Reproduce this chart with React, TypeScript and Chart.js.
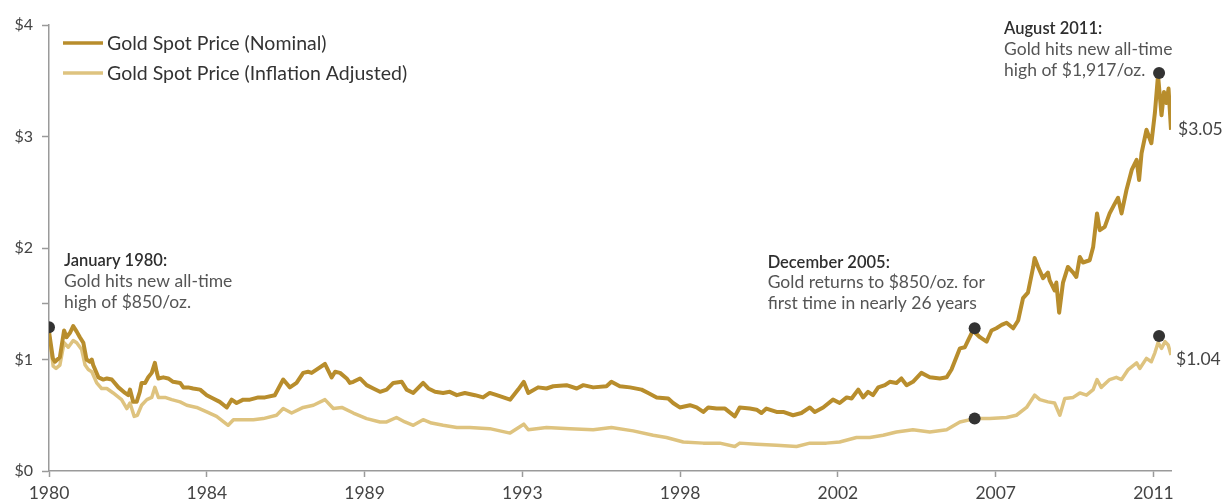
import React, { useEffect, useRef } from "react";
import { Chart, registerables } from "chart.js";

Chart.register(...registerables);

// ---- Data ----
const nominalYears = [
  1980.0, 1980.11, 1980.17, 1980.31, 1980.43, 1980.5, 1980.6, 1980.69, 1980.79, 1980.88,
  1980.98, 1981.07, 1981.17, 1981.22, 1981.26, 1981.41, 1981.55, 1981.65, 1981.79, 1981.98,
  1982.17, 1982.26, 1982.31, 1982.4, 1982.5, 1982.59, 1982.64, 1982.74, 1982.83, 1982.93,
  1983.02, 1983.07, 1983.12, 1983.26, 1983.4, 1983.54, 1983.74, 1983.83, 1983.97, 1984.11,
  1984.31, 1984.5, 1984.68, 1984.87, 1985.07, 1985.21, 1985.35, 1985.54, 1985.73, 1985.97,
  1986.16, 1986.44, 1986.68, 1986.87, 1987.06, 1987.25, 1987.39, 1987.49, 1987.63, 1987.87,
  1988.06, 1988.16, 1988.3, 1988.49, 1988.58, 1988.68, 1988.87, 1989.06, 1989.25, 1989.44,
  1989.63, 1989.82, 1990.06, 1990.2, 1990.39, 1990.67, 1990.82, 1991.01, 1991.24, 1991.43,
  1991.63, 1991.86, 1992.15, 1992.38, 1992.57, 1992.77, 1993.15, 1993.38, 1993.54, 1993.67,
  1993.95, 1994.19, 1994.38, 1994.76, 1995.05, 1995.24, 1995.52, 1995.9, 1996.04, 1996.28,
  1996.57, 1996.9, 1997.09, 1997.33, 1997.66, 1997.8, 1997.99, 1998.28, 1998.47, 1998.66,
  1998.8, 1999.04, 1999.28, 1999.56, 1999.7, 1999.99, 2000.18, 2000.32, 2000.46, 2000.75,
  2000.94, 2001.22, 2001.46, 2001.7, 2001.84, 2002.08, 2002.36, 2002.55, 2002.75, 2002.89,
  2003.08, 2003.22, 2003.36, 2003.5, 2003.65, 2003.84, 2003.98, 2004.17, 2004.31, 2004.46,
  2004.64, 2004.88, 2005.12, 2005.41, 2005.6, 2005.74, 2005.98, 2006.12, 2006.21, 2006.35,
  2006.55, 2006.74, 2006.88, 2007.02, 2007.17, 2007.31, 2007.5, 2007.64, 2007.78, 2007.92,
  2008.07, 2008.11, 2008.21, 2008.35, 2008.49, 2008.54, 2008.68, 2008.73, 2008.81, 2008.92,
  2009.06, 2009.21, 2009.3, 2009.4, 2009.49, 2009.68, 2009.78, 2009.89, 2009.97, 2010.11,
  2010.25, 2010.4, 2010.49, 2010.59, 2010.73, 2010.88, 2011.02, 2011.09, 2011.16, 2011.3,
  2011.44, 2011.54, 2011.63, 2011.73, 2011.8, 2011.87, 2011.93, 2012.0,
];
const nominalValues = [
  1.25, 1.01, 0.98, 1.02, 1.26, 1.2, 1.24, 1.3, 1.25, 1.2,
  1.15, 1.0, 0.98, 1.0, 0.95, 0.84, 0.82, 0.83, 0.82, 0.75,
  0.7, 0.68, 0.73, 0.62, 0.62, 0.71, 0.79, 0.79, 0.84, 0.88,
  0.97, 0.89, 0.83, 0.84, 0.83, 0.8, 0.79, 0.75, 0.75, 0.74,
  0.73, 0.68, 0.65, 0.62, 0.57, 0.64, 0.61, 0.64, 0.64, 0.66,
  0.66, 0.68, 0.82, 0.75, 0.79, 0.88, 0.89, 0.88, 0.91, 0.96,
  0.84, 0.89, 0.88, 0.83, 0.79, 0.8, 0.83, 0.77, 0.74, 0.71,
  0.73, 0.79, 0.8, 0.73, 0.7, 0.79, 0.74, 0.71, 0.7, 0.71,
  0.68, 0.7, 0.68, 0.66, 0.7, 0.68, 0.64, 0.73, 0.8, 0.7,
  0.75, 0.74, 0.76, 0.77, 0.74, 0.77, 0.75, 0.76, 0.8, 0.76,
  0.75, 0.73, 0.7, 0.66, 0.65, 0.61, 0.57, 0.59, 0.57, 0.53,
  0.57, 0.56, 0.56, 0.49, 0.57, 0.56, 0.55, 0.52, 0.56, 0.53,
  0.53, 0.5, 0.52, 0.57, 0.53, 0.57, 0.64, 0.61, 0.66, 0.65,
  0.73, 0.66, 0.71, 0.68, 0.75, 0.77, 0.8, 0.79, 0.83, 0.77,
  0.8, 0.88, 0.84, 0.83, 0.84, 0.91, 1.1, 1.11, 1.17, 1.26,
  1.2, 1.16, 1.26, 1.28, 1.31, 1.33, 1.28, 1.35, 1.55, 1.6,
  1.83, 1.91, 1.83, 1.73, 1.78, 1.71, 1.62, 1.69, 1.42, 1.69,
  1.83, 1.78, 1.74, 1.92, 1.87, 1.89, 2.01, 2.31, 2.16, 2.19,
  2.31, 2.4, 2.45, 2.31, 2.52, 2.7, 2.79, 2.61, 2.85, 3.06,
  2.94, 3.21, 3.55, 3.19, 3.4, 3.3, 3.43, 3.06,
];

const adjustedYears = [
  1980.0, 1980.12, 1980.2, 1980.31, 1980.43, 1980.55, 1980.69, 1980.79, 1980.93, 1981.03,
  1981.12, 1981.22, 1981.36, 1981.5, 1981.65, 1981.83, 1982.07, 1982.22, 1982.31, 1982.43,
  1982.52, 1982.64, 1982.79, 1982.93, 1983.02, 1983.12, 1983.31, 1983.5, 1983.74, 1983.93,
  1984.21, 1984.5, 1984.78, 1985.11, 1985.26, 1985.54, 1985.83, 1986.11, 1986.49, 1986.68,
  1986.92, 1987.25, 1987.54, 1987.87, 1988.11, 1988.35, 1988.68, 1989.06, 1989.44, 1989.63,
  1989.91, 1990.15, 1990.39, 1990.67, 1990.91, 1991.24, 1991.63, 1992.0, 1992.57, 1993.15,
  1993.54, 1993.67, 1994.19, 1994.86, 1995.52, 1996.04, 1996.66, 1997.23, 1997.61, 1998.09,
  1998.66, 1999.13, 1999.56, 1999.7, 2000.18, 2000.75, 2001.32, 2001.7, 2002.17, 2002.55,
  2003.03, 2003.41, 2003.79, 2004.17, 2004.64, 2005.12, 2005.6, 2005.98, 2006.4, 2006.83,
  2007.31, 2007.59, 2007.88, 2008.11, 2008.26, 2008.49, 2008.68, 2008.83, 2008.97, 2009.21,
  2009.4, 2009.59, 2009.78, 2009.89, 2010.01, 2010.25, 2010.44, 2010.59, 2010.78, 2011.02,
  2011.11, 2011.3, 2011.44, 2011.54, 2011.63, 2011.73, 2011.83, 2011.92, 2012.0,
];
const adjustedValues = [
  1.22, 0.94, 0.92, 0.95, 1.15, 1.11, 1.17, 1.15, 1.09, 0.95,
  0.91, 0.89, 0.79, 0.74, 0.74, 0.7, 0.64, 0.56, 0.61, 0.49,
  0.5, 0.59, 0.64, 0.66, 0.75, 0.66, 0.66, 0.64, 0.62, 0.59,
  0.57, 0.53, 0.49, 0.41, 0.46, 0.46, 0.46, 0.47, 0.5, 0.56,
  0.52, 0.57, 0.59, 0.64, 0.56, 0.57, 0.52, 0.47, 0.44, 0.44,
  0.48, 0.44, 0.41, 0.46, 0.43, 0.41, 0.39, 0.39, 0.38, 0.34,
  0.42, 0.37, 0.39, 0.38, 0.37, 0.39, 0.36, 0.32, 0.3, 0.26,
  0.25, 0.25, 0.22, 0.25, 0.24, 0.23, 0.22, 0.25, 0.25, 0.26,
  0.3, 0.3, 0.32, 0.35, 0.37, 0.35, 0.37, 0.44, 0.47, 0.47,
  0.48, 0.5, 0.57, 0.68, 0.64, 0.62, 0.61, 0.5, 0.65, 0.66,
  0.7, 0.68, 0.73, 0.82, 0.75, 0.82, 0.84, 0.82, 0.91, 0.97,
  0.92, 1.01, 0.98, 1.06, 1.15, 1.1, 1.16, 1.13, 1.04,
];

const markerYears = [1980.0, 2006.4, 2011.66, 2006.4, 2011.66];
const markerValues = [1.29, 1.28, 3.57, 0.47, 1.21];

const seriesLabels = ["Gold Spot Price (Nominal)", "Gold Spot Price (Inflation Adjusted)"];
const endLabels = ["$3.05", "$1.04"];

const xTickValues = [1980, 1984.5, 1989, 1993.5, 1998, 2002.5, 2007, 2011.5];
const xTickLabels = ["1980", "1984", "1989", "1993", "1998", "2002", "2007", "2011"];
const yTickValues = [0, 1, 1.5, 2, 3, 4];
const yTickLabels = ["$0", "$1", "", "$2", "$3", "$4"];

const annotations = [
  { marker: 0, title: "January 1980:", lines: ["Gold hits new all-time", "high of $850/oz."] },
  { marker: 1, title: "December 2005:", lines: ["Gold returns to $850/oz. for", "first time in nearly 26 years"] },
  { marker: 2, title: "August 2011:", lines: ["Gold hits new all-time", "high of $1,917/oz."] },
];

const DARK = "#B88D2C";
const LIGHT = "#DEC37F";
const FONT = "Lato, 'Noto Sans', sans-serif";

const overlayPlugin = {
  id: "overlay",
  afterDatasetsDraw(chart: any) {
    const ctx = chart.ctx;
    const xs = chart.scales.x;
    const ys = chart.scales.y;
    const area = chart.chartArea;
    ctx.save();

    // legend
    const legendColors = [DARK, LIGHT];
    seriesLabels.forEach((label, i) => {
      const y = area.top + 18 + i * 30;
      ctx.strokeStyle = legendColors[i];
      ctx.lineWidth = 3.5;
      ctx.beginPath();
      ctx.moveTo(area.left + 14, y);
      ctx.lineTo(area.left + 54, y);
      ctx.stroke();
      ctx.fillStyle = "#333";
      ctx.font = `19.5px ${FONT}`;
      ctx.textBaseline = "middle";
      ctx.textAlign = "left";
      ctx.fillText(label, area.left + 58, y + 1);
    });

    // annotations
    const offsets = [
      { dx: 15, dy: -66 },
      { dx: -207, dy: -66 },
      { dx: -155, dy: -44 },
    ];
    annotations.forEach((a, i) => {
      const px = xs.getPixelForValue(markerYears[a.marker]);
      const py = ys.getPixelForValue(markerValues[a.marker]);
      const x = px + offsets[i].dx;
      let y = py + offsets[i].dy;
      ctx.textAlign = "left";
      ctx.textBaseline = "middle";
      ctx.fillStyle = "#2e2e2e";
      ctx.font = `600 16.5px ${FONT}`;
      ctx.fillText(a.title, x, y);
      ctx.fillStyle = "#555";
      ctx.font = `17.5px ${FONT}`;
      a.lines.forEach((ln) => {
        y += 20.5;
        ctx.fillText(ln, x, y);
      });
    });

    // end labels
    const ends = [
      { yr: nominalYears[nominalYears.length - 1], v: nominalValues[nominalValues.length - 1], dx: 7, dy: 0 },
      { yr: adjustedYears[adjustedYears.length - 1], v: adjustedValues[adjustedValues.length - 1], dx: 5, dy: 4 },
    ];
    ends.forEach((e, i) => {
      const px = xs.getPixelForValue(e.yr);
      const py = ys.getPixelForValue(e.v);
      ctx.fillStyle = "#444";
      ctx.font = `17.5px ${FONT}`;
      ctx.textAlign = "left";
      ctx.textBaseline = "middle";
      ctx.fillText(endLabels[i], px + e.dx, py + e.dy);
    });
    ctx.restore();
  },
};

export default function App() {
  const canvasRef = useRef<HTMLCanvasElement | null>(null);

  useEffect(() => {
    if (!canvasRef.current) return;
    const chart = new Chart(canvasRef.current, {
      type: "line",
      data: {
        datasets: [
          {
            label: seriesLabels[0],
            data: nominalYears.map((x, i) => ({ x, y: nominalValues[i] })),
            borderColor: DARK,
            borderWidth: 4,
            pointRadius: 0,
            tension: 0,
            borderJoinStyle: "round",
            order: 1,
          },
          {
            label: seriesLabels[1],
            data: adjustedYears.map((x, i) => ({ x, y: adjustedValues[i] })),
            borderColor: LIGHT,
            borderWidth: 3.5,
            pointRadius: 0,
            tension: 0,
            borderJoinStyle: "round",
            order: 2,
          },
          {
            type: "scatter",
            label: "markers",
            data: markerYears.map((x, i) => ({ x, y: markerValues[i] })),
            backgroundColor: "#333",
            borderWidth: 0,
            pointRadius: 6,
            showLine: false,
            order: 0,
          } as any,
        ],
      },
      options: {
        animation: false,
        responsive: true,
        maintainAspectRatio: false,
        layout: { padding: { top: 25, right: 54, left: 0, bottom: 0 } },
        plugins: { legend: { display: false }, tooltip: { enabled: false } },
        scales: {
          x: {
            type: "linear",
            min: 1980,
            max: 2012,
            afterBuildTicks: (s: any) => {
              s.ticks = xTickValues.map((v) => ({ value: v }));
            },
            afterFit: (s: any) => {
              s.height = 33;
            },
            ticks: {
              autoSkip: false,
              maxRotation: 0,
              padding: 6,
              color: "#444",
              font: { family: FONT, size: 17.5 },
              callback: (v: any) => {
                const i = xTickValues.indexOf(Number(v));
                return i >= 0 ? xTickLabels[i] : "";
              },
            },
            grid: { drawOnChartArea: false, drawTicks: true, tickLength: 6, tickColor: "#9a9a9a", tickWidth: 1.5 },
            border: { color: "#9a9a9a", width: 1.5 },
          },
          y: {
            type: "linear",
            min: 0,
            max: 4,
            afterBuildTicks: (s: any) => {
              s.ticks = yTickValues.map((v) => ({ value: v }));
            },
            afterFit: (s: any) => {
              s.width = 49;
            },
            ticks: {
              autoSkip: false,
              padding: 9,
              color: "#444",
              font: { family: FONT, size: 16 },
              callback: (v: any) => {
                const i = yTickValues.indexOf(Number(v));
                return i >= 0 ? yTickLabels[i] : "";
              },
            },
            grid: { drawOnChartArea: false, drawTicks: true, tickLength: 7, tickColor: "#9a9a9a", tickWidth: 1.5 },
            border: { color: "#9a9a9a", width: 1.5 },
          },
        },
      },
      plugins: [overlayPlugin],
    } as any);
    return () => chart.destroy();
  }, []);

  return (
    <div style={{ position: "fixed", left: 0, top: 0, width: 1225, height: 504, background: "#fff" }}>
      <canvas ref={canvasRef} />
    </div>
  );
}
